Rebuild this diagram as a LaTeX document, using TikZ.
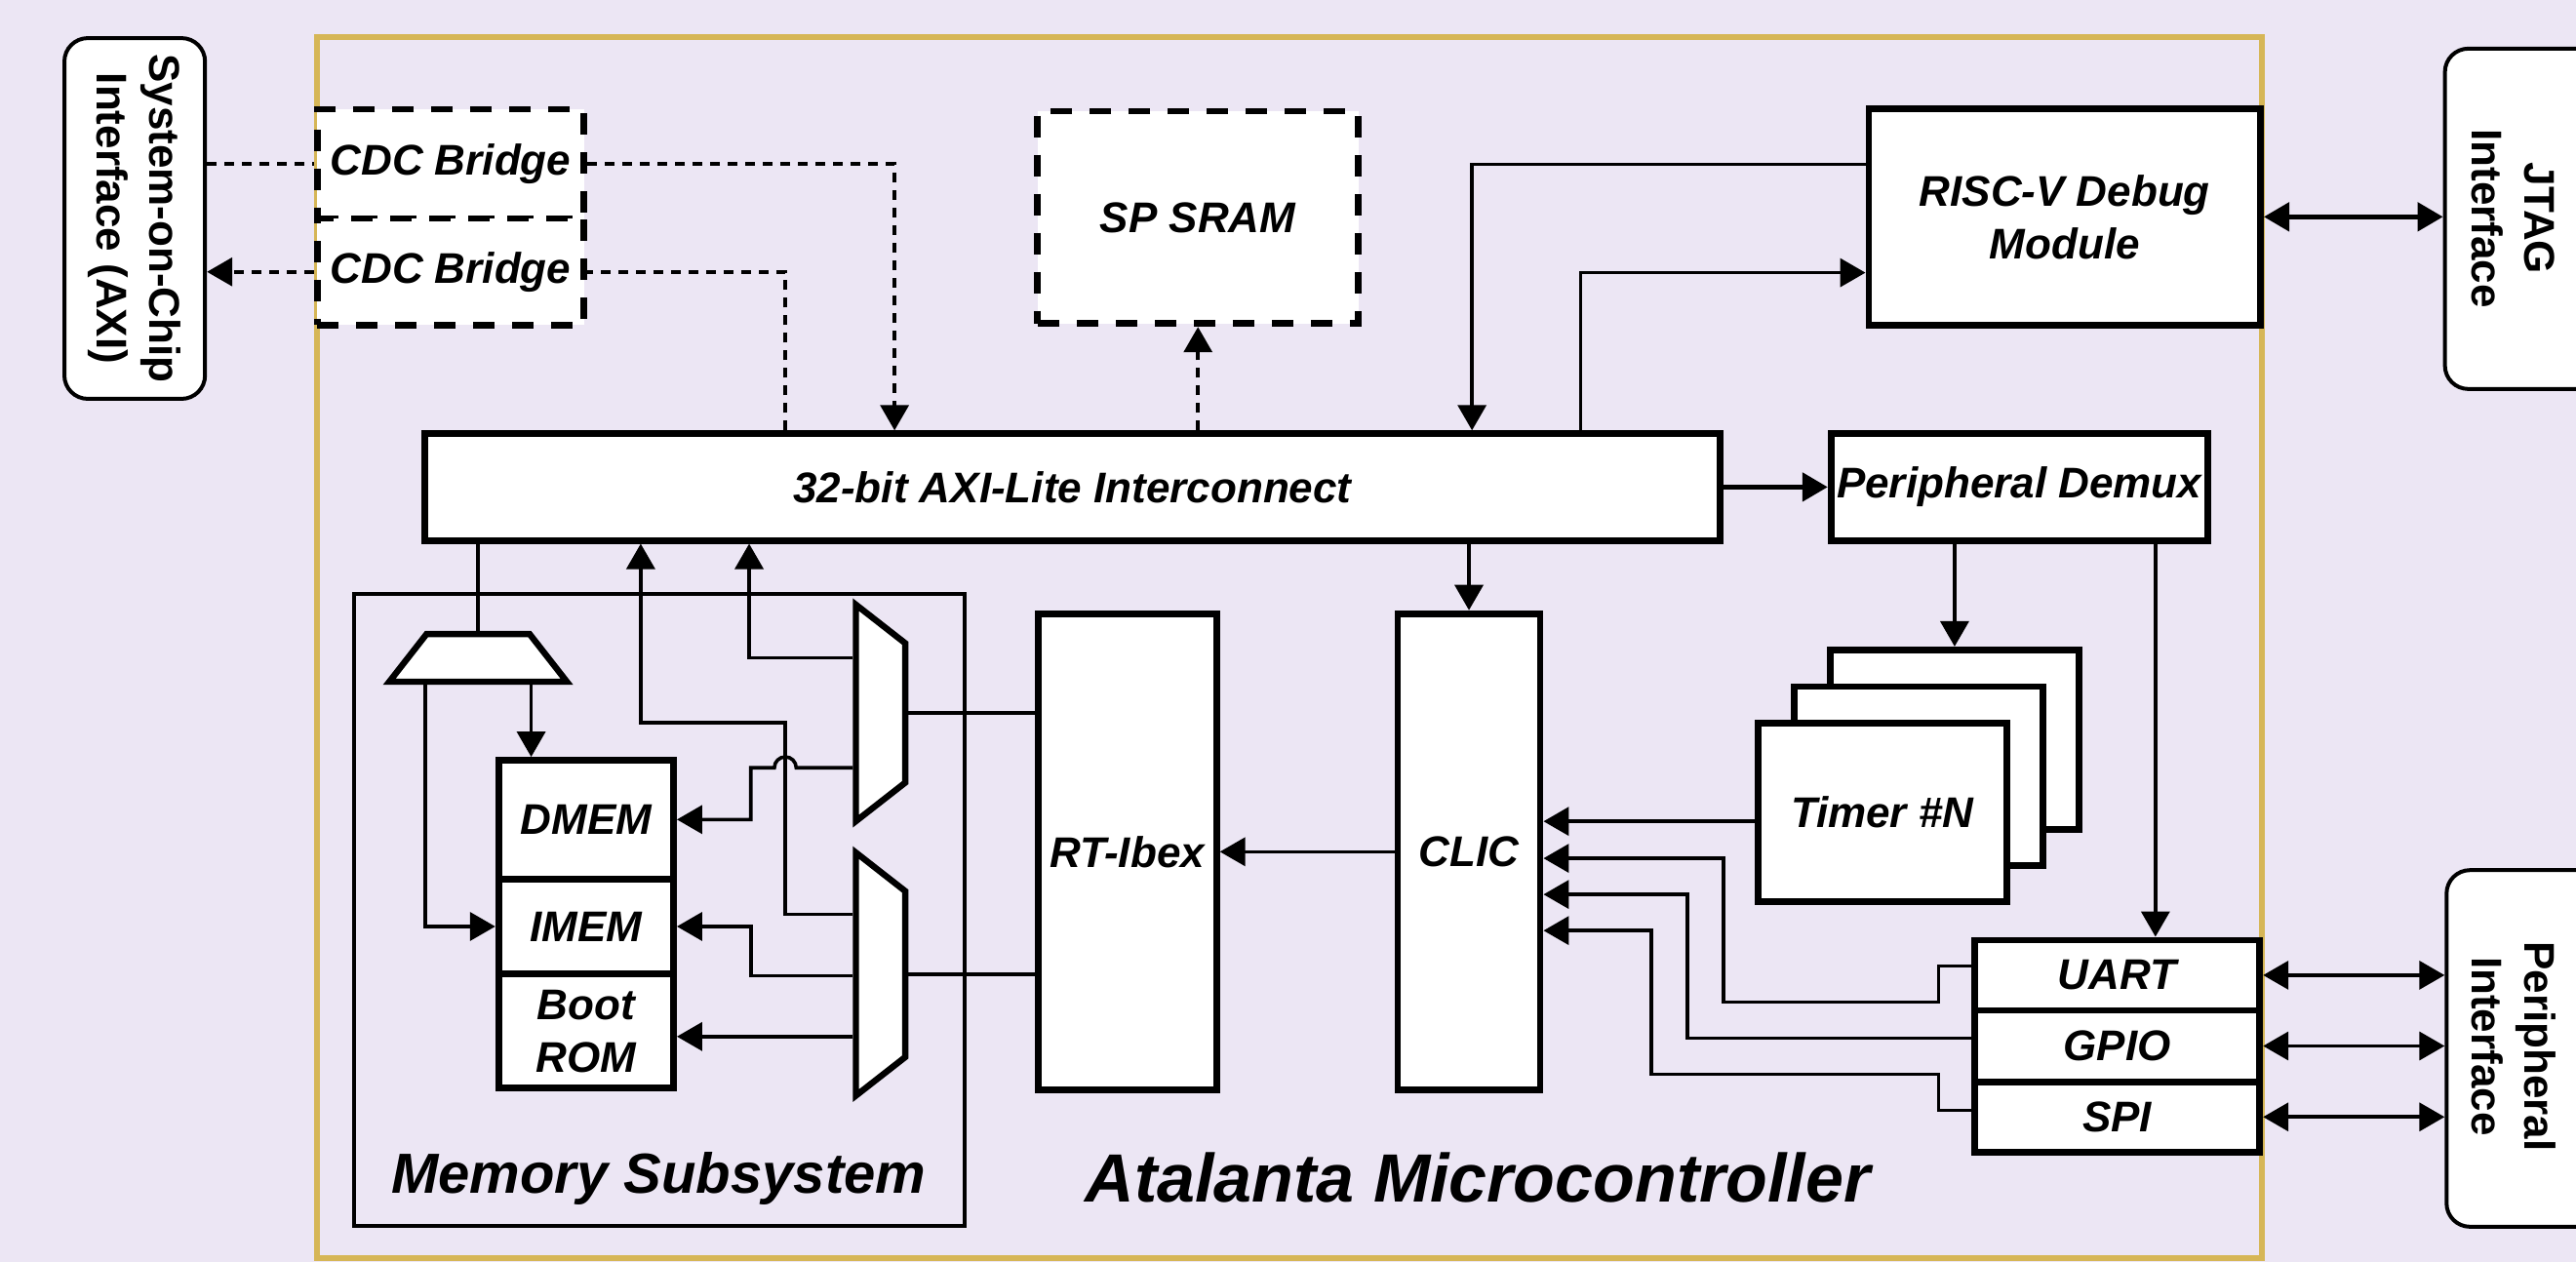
\documentclass[tikz,border=0pt]{standalone}
\usepackage{fontspec}
\setmainfont{Liberation Sans}
\usepackage{tikz}
\usetikzlibrary{arrows.meta, fit, calc, shapes.geometric}

\definecolor{bglavender}{RGB}{236,230,244}
\definecolor{framegold}{RGB}{214,182,86}

\begin{document}
\begin{tikzpicture}[
        x=0.8421pt, y=-0.8421pt,
        font=\fontsize{22}{27}\selectfont\bfseries\itshape,
        block/.style={
            draw,
            line width=3.4pt,
            fill=white,
            inner sep=0pt,
            align=center
        },
        dashblock/.style={block, dash pattern=on 11pt off 9pt},
        muxblock/.style={
            draw,
            trapezium,
            trapezium left angle=52,
            trapezium right angle=52,
            trapezium stretches body=true,
            line width=3.2pt,
            fill=white,
            inner sep=0.5pt,
            text depth=0pt
        },
        groupbox/.style={draw, line width=1.8pt, inner sep=0pt},
        mcuframe/.style={draw=framegold, line width=3pt, inner sep=0pt},
        ifbox/.style={
            draw,
            line width=2pt,
            rounded corners=12pt,
            fill=white,
            inner sep=0pt
        },
        iflabel/.style={
            rotate=-90,
            align=center,
            font=\fontsize{22}{27}\selectfont\bfseries
        },
        memlabel/.style={anchor=base, font=\fontsize{29}{35}\selectfont\bfseries\itshape},
        mculabel/.style={anchor=base, font=\fontsize{35}{42}\selectfont\bfseries\itshape},
        conn/.style={line width=1.8pt},
        arrow/.style={
            -{Triangle[length=13pt, width=14.5pt]},
            line width=1.8pt
        },
        busarrow/.style={arrow, line width=2.5pt},
        dblarrow/.style={
            {Triangle[length=13pt, width=14.5pt]}-{Triangle[length=13pt, width=14.5pt]},
            line width=1.8pt
        },
        dashline/.style={conn, dash pattern=on 5pt off 4pt},
        dasharrow/.style={arrow, dash pattern=on 5pt off 4pt}
    ]

    \useasboundingbox (0,0) rectangle (1568,768);
    \clip (0,0) rectangle (1568,768);
    \fill[bglavender] (0,0) rectangle (1568,768);

    \node[mcuframe, fit={(193,22.7) (1377,766)}] (mcu) {};
    \node[mculabel] (mculbl) at (899.5,732) {Atalanta Microcontroller};
    \node[groupbox, fit={(215.5,361.6) (587.2,746.2)}] (memsys) {};
    \node[memlabel] (memlbl) at (401,726.5) {Memory Subsystem};

    \node[ifbox, fit={(39.2,23.2) (124.8,242.8)}] (soc) {};
    \node[iflabel] (soctxt) at (soc.center) {System-on-Chip\\Interface (AXI)};
    \node[ifbox, fit={(1488.2,29.6) (1620,236.8)}] (jtag) {};
    \node[iflabel] (jtagtxt) at (1530,133) {JTAG\\Interface};
    \node[ifbox, fit={(1489.2,529.7) (1620,746.8)}] (perif) {};
    \node[iflabel] (periftxt) at (1530,637) {Peripheral\\Interface};

    \node[dashblock, minimum width=136.8pt, minimum height=56pt] (cdca) at (274.25,99.75) {CDC Bridge};
    \node[dashblock, minimum width=136.8pt, minimum height=54.7pt] (cdcb) at (274.25,165.5) {CDC Bridge};
    \node[dashblock, minimum width=164.4pt, minimum height=108.9pt] (sram) at (729.2,132.35) {SP SRAM};
    \node[block, minimum width=200.8pt, minimum height=111.2pt] (dbg) at (1256.75,132) {RISC-V Debug\\Module};

    \node[block, minimum width=664pt, minimum height=54.7pt] (axi) at (652.75,296.5) {32-bit AXI-Lite Interconnect};
    \node[block, minimum width=193pt, minimum height=54.7pt] (pdemux) at (1229.1,296.5) {Peripheral Demux};

    \node[muxblock, minimum width=91pt, text height=23.4pt] (memdmx) at (291,400.5) {};
    \node[block, minimum width=89.7pt, minimum height=60.8pt] (dmem) at (356.75,498.9) {DMEM};
    \node[block, minimum width=89.7pt, minimum height=48.8pt] (imem) at (356.75,564) {IMEM};
    \node[block, minimum width=89.7pt, minimum height=58.3pt] (boot) at (356.75,627.6) {Boot\\ROM};
    \node[muxblock, rotate=-90, minimum width=111pt, text height=24.3pt] (muxa) at (536,434) {};
    \node[muxblock, rotate=-90, minimum width=124.6pt, text height=24.3pt] (muxb) at (536,593) {};

    \node[block, minimum width=91.4pt, minimum height=244.2pt] (ibex) at (686.25,518.5) {RT-Ibex};
    \node[block, minimum width=73pt, minimum height=244.2pt] (clic) at (894.15,518.5) {CLIC};

    \node[block, fit={(1114,395.6) (1265.5,504.8)}] (tmrc) {};
    \node[block, fit={(1092,418) (1243.5,527)}] (tmrb) {};
    \node[block, minimum width=127.6pt, minimum height=91.8pt] (tmra) at (1145.75,494.5) {Timer \#N};

    \node[block, minimum width=146.3pt, minimum height=36pt] (uart) at (1288.65,593.65) {UART};
    \node[block, minimum width=146.3pt, minimum height=36.6pt] (gpio) at (1288.65,636.75) {GPIO};
    \node[block, minimum width=146.3pt, minimum height=36.1pt] (spi) at (1288.65,679.95) {SPI};

    \draw[dashline] (soc.east |- cdca.west) -- (cdca.west);
    \draw[dasharrow] (cdca.east) -| (axi.north -| 544.5,0);
    \draw[dashline] (axi.north -| 478,0) |- (cdcb.east);
    \draw[dasharrow] (cdcb.west) -- (soc.east |- cdcb.west);
    \draw[dasharrow] (axi.north -| sram.south) -- (sram.south);

    \draw[arrow] (dbg.west |- 0,100) -| (axi.north -| 896,0);
    \draw[arrow] (axi.north -| 962,0) |- (dbg.west |- 0,166);
    \draw[dblarrow, line width=2.4pt] (dbg.east) -- (jtag.west |- dbg.east);

    \draw[busarrow] (axi.east) -- (pdemux.west);
    \draw[arrow] (axi.south -| clic.north) -- (clic.north);
    \draw[arrow] (pdemux.south -| tmrc.north) -- (tmrc.north);
    \draw[arrow] (pdemux.south -| 1312,0) -- (uart.north -| 1312,0);

    \draw[arrow] (tmra.west |- 0,500) -- (clic.east |- 0,500);
    \draw[arrow] (uart.west |- 0,588) -- (1180,588) |- (1049,610) |- (clic.east |- 0,522.5);
    \draw[arrow] (gpio.west |- 0,632) -| (1027,544.5) -- (clic.east |- 0,544.5);
    \draw[arrow] (spi.west |- 0,676) -- (1180,676) |- (1005,654) |- (clic.east |- 0,566.5);
    \draw[arrow] (clic.west) -- (clic.west -| ibex.east);

    \draw[dblarrow] (uart.east) -- (perif.west |- uart.east);
    \draw[dblarrow] (gpio.east) -- (perif.west |- gpio.east);
    \draw[dblarrow] (spi.east) -- (perif.west |- spi.east);

    \draw[conn] (muxa.north) -- (muxa.north -| ibex.west);
    \draw[conn] (muxb.north) -- (muxb.north -| ibex.west);
    \draw[arrow] (muxa.south |- 0,400.5) -| (axi.south -| 456,0);
    \draw[arrow] (muxa.south |- 0,467.4) -- (484.65,467.4)
        arc[start angle=0, end angle=180, radius=5.6pt] -- (457,467.4) |- (dmem.east);
    \draw[arrow] (muxb.south |- 0,556.5) -| (478,440) -| (axi.south -| 390,0);
    \draw[arrow] (muxb.south |- 0,594) -| (457,564) -- (imem.east);
    \draw[arrow] (muxb.south |- 0,631) -- (boot.east |- 0,631);

    \draw[conn] (axi.south -| memdmx.north) -- (memdmx.north);
    \draw[arrow] (memdmx.south -| memdmx.top right corner) -- (dmem.north -| memdmx.top right corner);
    \draw[arrow] (memdmx.south -| memdmx.top left corner) |- (imem.west);

\end{tikzpicture}
\end{document}
